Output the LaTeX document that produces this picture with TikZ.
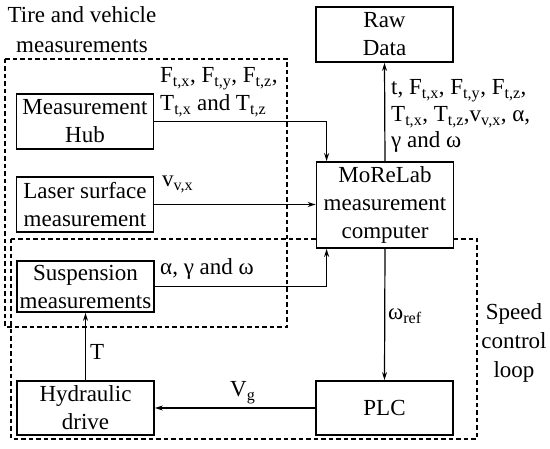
\documentclass[tikz,border=0pt]{standalone}
\usepackage{fontspec}
\setmainfont{Liberation Serif}
\usetikzlibrary{arrows.meta}
\newcommand{\sbx}[1]{\textsubscript{#1}}
\begin{document}
\begin{tikzpicture}[x=1pt,y=-1pt,
  blk/.style={draw, line width=1.8pt, fill=white, align=center, inner sep=0pt,
    minimum width=137pt, font=\fontsize{23}{28}\selectfont},
  lbl/.style={inner sep=0pt, anchor=base west, align=left, font=\fontsize{23}{28}\selectfont},
  grp/.style={draw, line width=1.5pt, dash pattern=on 4.5pt off 3pt},
  arr/.style={line width=1.2pt, -{Stealth[length=8pt,width=5pt]}}]
\useasboundingbox (0,0) rectangle (550,449);
% dashed groups
\draw[grp] (5,59) rectangle (287,327);
\draw[grp] (11,239) rectangle (477,439);
% titles (base anchor = last line)
\node[inner sep=0pt, anchor=base, align=center, font=\fontsize{23}{30}\selectfont] (ttire) at (82,53) {Tire and vehicle\\measurements};
\node[inner sep=0pt, anchor=base, align=center, font=\fontsize{23}{29}\selectfont] (tspeed) at (514,378) {Speed\\control\\loop};
% blocks
\node[blk, minimum height=55pt] (raw) at (384.5,34.5) {Raw\\Data};
\node[blk, minimum height=86pt] (mor) at (385,205) {MoReLab\\measurement\\computer};
\node[blk, minimum height=55pt] (hub) at (85,121.5) {Measurement\\Hub};
\node[blk, minimum height=55pt] (las) at (85,204.5) {Laser surface\\measurement};
\node[blk, minimum height=51pt] (sus) at (85.5,286.5) {Suspension\\measurements};
\node[blk, minimum height=54pt] (hyd) at (85.5,408) {Hydraulic\\drive};
\node[blk, minimum height=54pt] (plc) at (384.5,408) {PLC};
% connectors
\draw[arr] (hub.east) -| ([xshift=11pt]mor.north west);
\draw[arr] (las.east) -- (las.east -| mor.west);
\draw[arr] (sus.east) -| ([xshift=11pt]mor.south west);
\draw[arr] (mor.north) -- (raw.south);
\draw[arr] (mor.south) -- (plc.north);
\draw[arr] (plc.west) -- (hyd.east);
\draw[arr] (hyd.north) -- (sus.south);
% labels (base anchor = last line)
\node[lbl] (lhub) at (160,111) {F\sbx{t,x}, F\sbx{t,y}, F\sbx{t,z},\\T\sbx{t,x} and T\sbx{t,z}};
\node[lbl] (llas) at (162,187) {v\sbx{v,x}};
\node[lbl] (lsus) at (160,275) {α, γ and ω};
\node[lbl, font=\fontsize{23}{26.5}\selectfont] (lraw) at (391,148) {t, F\sbx{t,x}, F\sbx{t,y}, F\sbx{t,z},\\T\sbx{t,x}, T\sbx{t,z},v\sbx{v,x}, α,\\γ and ω};
\node[lbl] (lref) at (388,320) {ω\sbx{ref}};
\node[lbl] (lvg) at (230,397) {V\sbx{g}};
\node[lbl] (lt) at (90,360) {T};
\end{tikzpicture}
\end{document}
